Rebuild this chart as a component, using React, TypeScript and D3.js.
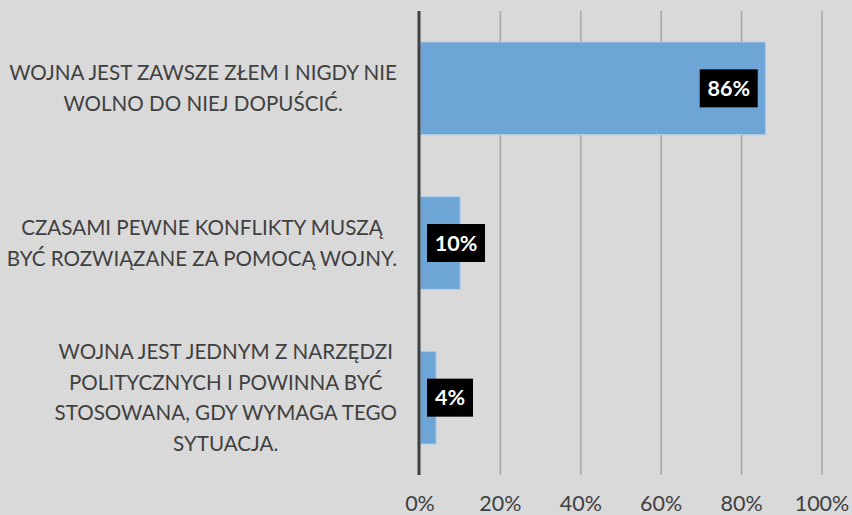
import React, { useEffect, useRef } from 'react';
import { select, scaleLinear, scaleBand } from 'd3';

const categories = [
  ['WOJNA JEST ZAWSZE ZŁEM I NIGDY NIE', 'WOLNO DO NIEJ DOPUŚCIĆ.'],
  ['CZASAMI PEWNE KONFLIKTY MUSZĄ', 'BYĆ ROZWIĄZANE ZA POMOCĄ WOJNY.'],
  ['WOJNA JEST JEDNYM Z NARZĘDZI', 'POLITYCZNYCH I POWINNA BYĆ', 'STOSOWANA, GDY WYMAGA TEGO', 'SYTUACJA.'],
];
const values = [86, 10, 4];
const ticks = [0, 20, 40, 60, 80, 100];

const width = 852;
const height = 515;

export default function App() {
  const svgRef = useRef<SVGSVGElement>(null);

  useEffect(() => {
    if (!svgRef.current) return;
    document.body.style.margin = '0';
    const svg = select(svgRef.current);
    svg.selectAll('*').remove();

    const font = "Lato, 'Open Sans', sans-serif";
    const textColor = '#404040';
    const margin = { top: 11, right: 30, bottom: 40, left: 420 };

    svg.append('rect').attr('width', width).attr('height', height).attr('fill', '#d9d9d9');

    const x = scaleLinear().domain([0, 100]).range([margin.left, 822]);
    const y = scaleBand<number>()
      .domain(values.map((_, i) => i))
      .range([margin.top, height - margin.bottom])
      .paddingInner(0.4)
      .paddingOuter(0.2);

    // gridlines
    svg.append('g').selectAll('line').data(ticks.slice(1)).enter().append('line')
      .attr('x1', d => x(d)).attr('x2', d => x(d))
      .attr('y1', margin.top).attr('y2', height - margin.bottom)
      .attr('stroke', '#a6a6a6').attr('stroke-width', 1.5);

    // tick labels
    svg.append('g').selectAll('text').data(ticks).enter().append('text')
      .attr('x', d => x(d)).attr('y', 511)
      .attr('text-anchor', 'middle')
      .attr('font-family', font).attr('font-size', 21.5)
      .attr('fill', textColor)
      .text(d => `${d}%`);

    // bars
    svg.append('g').selectAll('rect').data(values).enter().append('rect')
      .attr('x', x(0)).attr('y', (_, i) => y(i)!)
      .attr('width', d => x(d) - x(0)).attr('height', y.bandwidth())
      .attr('fill', '#6ea5d7').attr('stroke', '#b4d0ea').attr('stroke-width', 1);

    // axis line
    svg.append('line')
      .attr('x1', x(0) - 1).attr('x2', x(0) - 1)
      .attr('y1', margin.top).attr('y2', height - margin.bottom)
      .attr('stroke', '#404040').attr('stroke-width', 3);

    // data labels
    const boxW = (d: number) => (d >= 10 ? 58 : 46);
    const boxH = 38;
    const lbl = svg.append('g').selectAll('g').data(values).enter().append('g')
      .attr('transform', (d, i) => {
        const bx = Math.max(x(0) + 7, x(d) - 8 - boxW(d));
        const by = y(i)! + y.bandwidth() / 2 - boxH / 2;
        return `translate(${bx},${by})`;
      });
    lbl.append('rect').attr('width', d => boxW(d)).attr('height', boxH).attr('fill', '#000');
    lbl.append('text')
      .attr('x', d => boxW(d) / 2).attr('y', boxH / 2).attr('dy', '0.36em')
      .attr('text-anchor', 'middle')
      .attr('font-family', font).attr('font-weight', 700).attr('font-size', 21.5)
      .attr('fill', '#fff')
      .text(d => `${d}%`);

    // category labels, centered lines, block right-aligned to the axis
    const lineH = 30.5;
    categories.forEach((lines, i) => {
      const g = svg.append('g');
      const texts = lines.map((t, j) => g.append('text')
        .attr('y', y(i)! + y.bandwidth() / 2 + (j - (lines.length - 1) / 2) * lineH)
        .attr('dy', '0.36em')
        .attr('text-anchor', 'middle')
        .attr('font-family', font).attr('font-size', 20.6)
        .attr('fill', textColor)
        .text(t));
      const maxW = Math.max(...texts.map(t => (t.node() as SVGTextElement).getComputedTextLength()));
      const cx = 397 - maxW / 2;
      texts.forEach(t => t.attr('x', cx));
    });
  }, []);

  return (
    <svg ref={svgRef} width={width} height={height} viewBox={`0 0 ${width} ${height}`}
      style={{ display: 'block', position: 'absolute', left: 0, top: 0 }} />
  );
}
